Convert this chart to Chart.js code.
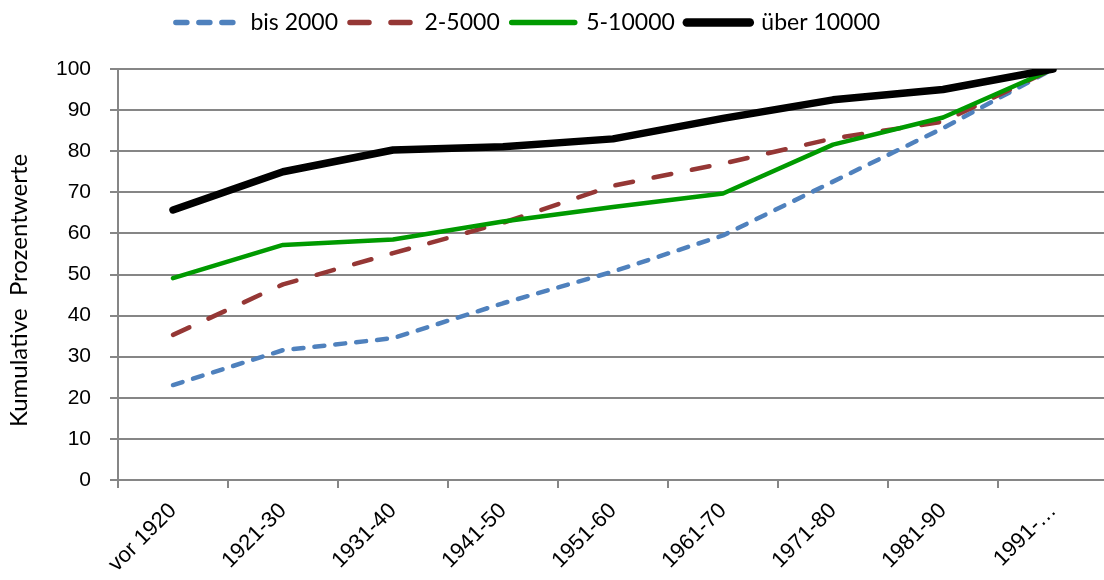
<!DOCTYPE html>
<html>
<head>
<meta charset="utf-8">
<script src="https://cdn.jsdelivr.net/npm/chart.js@4/dist/chart.umd.min.js"></script>
<style>
  html, body { margin: 0; padding: 0; background: #fff; overflow: hidden; }
  #wrap { width: 1104px; height: 580px; position: relative; overflow: hidden; }
  #c { display: block; }
</style>
</head>
<body>
<div id="wrap"><canvas id="c" width="1108" height="580"></canvas></div>
<script>
// Baujahr-Klassen (x axis)
const periods = ['vor 1920', '1921-30', '1931-40', '1941-50', '1951-60', '1961-70', '1971-80', '1981-90', '1991-…'];

// Kumulative Prozentwerte je Gemeindegröße
const bis2000    = [23.1, 31.6, 34.5, 43.0, 50.7, 59.5, 72.6, 85.6, 100];
const bis5000    = [35.3, 47.6, 55.2, 62.6, 71.6, 77.0, 83.1, 87.2, 100];
const bis10000   = [49.1, 57.2, 58.5, 62.9, 66.4, 69.7, 81.6, 88.2, 100];
const ueber10000 = [65.7, 75.0, 80.3, 81.1, 83.0, 88.0, 92.5, 95.0, 100];

const seriesNames = ['bis 2000', '2-5000', '5-10000', 'über 10000'];
const yTicks = [0, 10, 20, 30, 40, 50, 60, 70, 80, 90, 100];
const yTitle = 'Kumulative  Prozentwerte';

const gridGrey = '#868686';
const sideFamily = 'Lato, "Open Sans", sans-serif';
const armFamily = '"Liberation Sans", Arial, sans-serif';

// legend block: fixed height, nudged up/left
const legendTweak = {
  id: 'legendTweak',
  beforeLayout(chart) {
    const lg = chart.legend;
    if (lg && !lg._tweaked) {
      const fit = lg.fit.bind(lg);
      lg.fit = function () { fit(); this.height = 69; };
      lg._tweaked = true;
    }
  },
  afterLayout(chart) {
    const lg = chart.legend;
    if (lg) { lg.left -= 26; lg.right -= 26; lg.top -= 1; lg.bottom -= 1; }
  }
};

// rotated y-axis caption
const yCaption = {
  id: 'yCaption',
  afterDraw(chart) {
    const { ctx, chartArea } = chart;
    ctx.save();
    ctx.translate(19, (chartArea.top + chartArea.bottom) / 2 + 16);
    ctx.rotate(-Math.PI / 2);
    ctx.font = '24px ' + sideFamily;
    ctx.fillStyle = '#000';
    ctx.textAlign = 'center';
    ctx.textBaseline = 'middle';
    ctx.fillText(yTitle, 0, 0);
    ctx.restore();
  }
};

new Chart(document.getElementById('c'), {
  type: 'line',
  data: {
    labels: periods,
    datasets: [
      { label: seriesNames[0], data: bis2000, borderColor: '#4F81BD', backgroundColor: '#4F81BD',
        borderWidth: 4.5, borderDash: [10, 11], order: 3 },
      { label: seriesNames[1], data: bis5000, borderColor: '#953735', backgroundColor: '#953735',
        borderWidth: 4.5, borderDash: [18, 21], order: 2 },
      { label: seriesNames[2], data: bis10000, borderColor: '#009A00', backgroundColor: '#009A00',
        borderWidth: 4.5, order: 1 },
      { label: seriesNames[3], data: ueber10000, borderColor: '#000000', backgroundColor: '#000000',
        borderWidth: 7.5, order: 0 }
    ]
  },
  options: {
    responsive: false,
    animation: false,
    events: [],
    layout: { padding: 0 },
    elements: {
      point: { radius: 0, hoverRadius: 0 },
      line: { tension: 0, borderCapStyle: 'round', borderJoinStyle: 'round', fill: false }
    },
    plugins: {
      tooltip: { enabled: false },
      legend: {
        position: 'top',
        align: 'center',
        labels: {
          usePointStyle: true,
          pointStyle: 'line',
          pointStyleWidth: 63,
          padding: 12,
          color: '#000',
          font: { family: sideFamily, size: 23 },
          sort: (a, b) => a.datasetIndex - b.datasetIndex,
          generateLabels(chart) {
            const items = Chart.defaults.plugins.legend.labels.generateLabels(chart);
            return items.map(it => {
              const ds = chart.data.datasets[it.datasetIndex];
              const w = ds.borderWidth + 1;
              it.lineWidth = w;
              it.lineDash = ds.borderDash ? ds.borderDash.map(v => v + (w - ds.borderWidth)) : [];
              it.lineCap = 'round';
              it.strokeStyle = ds.borderColor;
              return it;
            });
          }
        }
      }
    },
    scales: {
      x: {
        type: 'category',
        offset: true,
        grid: { offset: true, drawOnChartArea: false, drawTicks: true, tickLength: 8,
                color: gridGrey, lineWidth: 2 },
        border: { color: gridGrey, width: 2 },
        ticks: { minRotation: 45, maxRotation: 45, autoSkip: false, padding: 10,
                 color: '#000', font: { family: armFamily, size: 22 } },
        afterFit(scale) { scale.height = 100; }
      },
      y: {
        min: 0, max: 100,
        afterBuildTicks(scale) { scale.ticks = yTicks.map(v => ({ value: v })); },
        grid: { color: gridGrey, lineWidth: 2, tickLength: 8, drawTicks: true },
        border: { color: gridGrey, width: 2 },
        ticks: { padding: 19, color: '#000', font: { family: armFamily, size: 21 } },
        afterFit(scale) { scale.width = 118; }
      }
    }
  },
  plugins: [legendTweak, yCaption]
});
</script>
</body>
</html>
